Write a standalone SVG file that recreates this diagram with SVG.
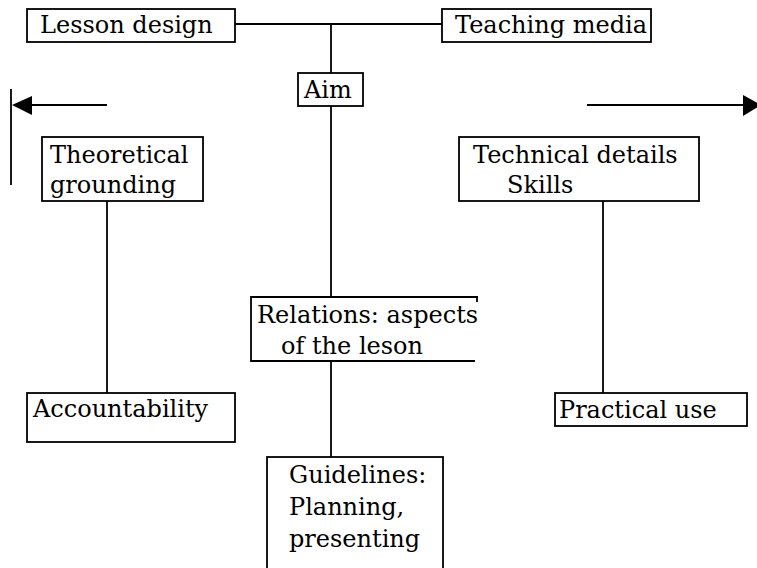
<svg xmlns="http://www.w3.org/2000/svg" width="757" height="568" viewBox="0 0 757 568">
  <style>
    .box { fill: #ffffff; stroke: #000000; stroke-width: 1.8; }
    .edge { fill: none; stroke: #000000; stroke-width: 1.8; }
    .head { fill: #000000; stroke: none; }
    text { font-family: "DejaVu Serif", "Liberation Serif", serif; font-size: 24px; fill: #000000; }
  </style>
  <rect width="757" height="568" fill="#ffffff"/>

  <!-- connectors -->
  <g id="connectors">
    <line class="edge" x1="235" y1="24" x2="442" y2="24"/>
    <line class="edge" x1="331" y1="24" x2="331" y2="73"/>
    <line class="edge" x1="331" y1="106" x2="331" y2="297"/>
    <line class="edge" x1="331" y1="361" x2="331" y2="457"/>
    <line class="edge" x1="107" y1="201" x2="107" y2="393"/>
    <line class="edge" x1="603" y1="201" x2="603" y2="393"/>
    <!-- left arrow with its bar -->
    <line class="edge" x1="11" y1="89" x2="11" y2="185"/>
    <line class="edge" x1="30" y1="105" x2="107" y2="105"/>
    <polygon class="head" points="12,105 32,96 32,115"/>
    <!-- right arrow -->
    <line class="edge" x1="587" y1="105" x2="745" y2="105"/>
    <polygon class="head" points="743,95 743,116 761,105"/>
  </g>

  <g id="lesson-design">
    <rect class="box" x="27" y="9" width="208" height="33"/>
    <text x="40" y="33">Lesson design</text>
  </g>

  <g id="teaching-media">
    <rect class="box" x="442" y="9" width="209" height="33"/>
    <text x="455" y="33">Teaching media</text>
  </g>

  <g id="aim">
    <rect class="box" x="298" y="73" width="65" height="33"/>
    <text x="304" y="98">Aim</text>
  </g>

  <g id="theoretical-grounding">
    <rect class="box" x="42" y="137" width="161" height="64"/>
    <text x="50" y="163">Theoretical</text>
    <text x="50" y="193">grounding</text>
  </g>

  <g id="technical-details">
    <rect class="box" x="459" y="137" width="240" height="64"/>
    <text x="473" y="163">Technical details</text>
    <text x="507" y="193">Skills</text>
  </g>

  <g id="relations">
    <!-- open on the right: top and bottom rules with a short stub -->
    <path class="edge" d="M478,297 H251 V361 H475"/>
    <line class="edge" x1="477" y1="297" x2="477" y2="302"/>
    <text x="257" y="323">Relations: aspects</text>
    <text x="281" y="354">of the leson</text>
  </g>

  <g id="accountability">
    <rect class="box" x="27" y="393" width="208" height="49"/>
    <text x="33" y="417">Accountability</text>
  </g>

  <g id="practical-use">
    <rect class="box" x="555" y="393" width="192" height="33"/>
    <text x="559" y="418">Practical use</text>
  </g>

  <g id="guidelines">
    <rect class="box" x="267" y="457" width="176" height="125"/>
    <text x="289" y="483">Guidelines:</text>
    <text x="289" y="515">Planning,</text>
    <text x="289" y="547">presenting</text>
  </g>
</svg>
